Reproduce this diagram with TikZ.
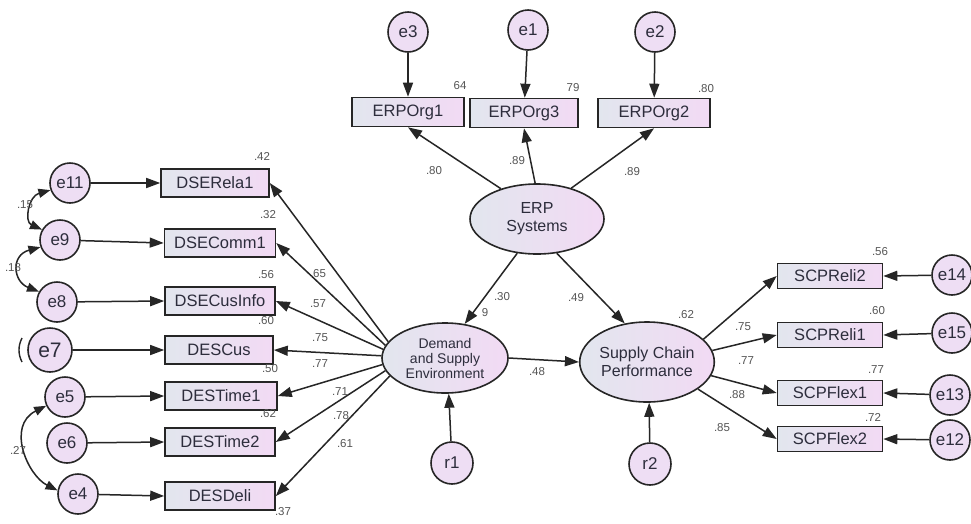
\documentclass[tikz,border=0pt]{standalone}
\usepackage{fontspec}
\setmainfont{Liberation Sans}
\usetikzlibrary{arrows.meta,shapes.geometric}
\definecolor{fillL}{RGB}{226,230,238}
\definecolor{fillR}{RGB}{242,218,244}
\definecolor{lav}{RGB}{238,222,244}
\definecolor{txt}{RGB}{45,45,60}
\definecolor{num}{RGB}{85,85,85}
\tikzset{
  obs/.style={draw=black!85, line width=1.6pt, left color=fillL, right color=fillR,
    minimum width=108pt, minimum height=28pt, inner sep=0pt,
    font=\fontsize{16.5}{18}\selectfont, text=txt},
  errc/.style={circle, draw=black!85, line width=1.6pt, fill=lav, minimum size=40pt,
    inner sep=0pt, font=\fontsize{17}{18}\selectfont, text=txt},
  lat/.style={ellipse, draw=black!85, line width=1.6pt, left color=fillL, right color=fillR,
    inner sep=0pt, text=txt, align=center},
  arr/.style={-{Triangle[length=14pt,width=10pt]}, line width=1.5pt, black!85},
  darr/.style={{Triangle[length=12pt,width=9pt]}-{Triangle[length=12pt,width=9pt]}, line width=1.5pt, black!85},
  lbl/.style={font=\fontsize{11.5}{12}\selectfont, text=num, inner sep=0pt}
}
\begin{document}
\begin{tikzpicture}[x=1pt,y=-1pt]
\useasboundingbox[fill=white] (0,0) rectangle (971,523);
% latent variables
\node[lat, minimum width=134pt, minimum height=70pt, font=\fontsize{16}{18}\selectfont] (ERP) at (537,219) {ERP\\Systems};
\node[lat, minimum width=126pt, minimum height=70pt, font=\fontsize{14}{15}\selectfont] (Dem) at (445,358) {Demand\\and Supply\\Environment};
\node[lat, minimum width=130pt, minimum height=80pt, font=\fontsize{16}{18}\selectfont] (SCP) at (647,362) {Supply Chain\\Performance};
% ERP indicators
\node[obs, minimum width=112pt, minimum height=29pt] (O1) at (408,112) {ERPOrg1};
\node[obs, minimum width=108pt, minimum height=29pt] (O3) at (524,113) {ERPOrg3};
\node[obs, minimum width=112pt, minimum height=29pt] (O2) at (654,113) {ERPOrg2};
\node[errc] (e3) at (408,32) {e3};
\node[errc] (e1) at (528,30) {e1};
\node[errc] (e2) at (655,32) {e2};
% left indicators
\node[obs] (B1) at (215,183) {DSERela1};
\node[obs, minimum width=111pt] (B2) at (220,243) {DSEComm1};
\node[obs, minimum width=110pt] (B3) at (220,301) {DSECusInfo};
\node[obs, minimum width=108pt] (B4) at (219,350) {DESCus};
\node[obs, minimum width=112pt] (B5) at (221,396) {DESTime1};
\node[obs, minimum width=110pt] (B6) at (220,442) {DESTime2};
\node[obs, minimum width=110pt] (B7) at (220,496) {DESDeli};
\node[errc] (e11) at (70,183) {e11};
\node[errc] (e9) at (60,240) {e9};
\node[errc] (e8) at (57,302) {e8};
\node[errc, minimum size=44pt, font=\fontsize{21}{22}\selectfont] (e7) at (50,350) {e7};
\node[errc] (e5) at (65,397) {e5};
\node[errc] (e6) at (67,443) {e6};
\node[errc] (e4) at (78,494) {e4};
% right indicators
\node[obs, minimum width=105pt, minimum height=25pt] (S1) at (830,276) {SCPReli2};
\node[obs, minimum width=105pt, minimum height=25pt] (S2) at (830,335) {SCPReli1};
\node[obs, minimum width=105pt, minimum height=25pt] (S3) at (830,393) {SCPFlex1};
\node[obs, minimum width=105pt, minimum height=25pt] (S4) at (830,439) {SCPFlex2};
\node[errc] (e14) at (952,275) {e14};
\node[errc] (e15) at (952,333) {e15};
\node[errc] (e13) at (950,395) {e13};
\node[errc] (e12) at (950,440) {e12};
% residuals
\node[errc, minimum size=42pt] (r1) at (452,463) {r1};
\node[errc, minimum size=42pt] (r2) at (650,464) {r2};
% label partly under arrow
\node[lbl] (l39) at (485,313) {9};
% ERP arrows
\draw[arr] (e3) -- (O1);
\draw[arr] (e1) -- (O3);
\draw[arr] (e2) -- (O2);
\draw[arr] (ERP.140) -- (O1.south);
\draw[arr] (ERP.93) -- (O3.south);
\draw[arr] (ERP.42) -- (O2.south);
\draw[arr] (ERP.240) -- (Dem.60);
\draw[arr] (ERP.300) -- (SCP.120);
\draw[arr] (Dem.east) -- (SCP.west);
\draw[arr] (r1) -- (Dem.-84);
\draw[arr] (r2) -- (SCP.-87);
% left
\foreach \e/\b in {e11/B1,e9/B2,e8/B3,e7/B4,e5/B5,e6/B6,e4/B7}
  \draw[arr] (\e) -- (\b.west);
\draw[arr] (Dem.164) -- (B1.east);
\draw[arr] (Dem.168) -- (B2.east);
\draw[arr] (Dem.172) -- (B3.east);
\draw[arr] (Dem.178) -- (B4.east);
\draw[arr] (Dem.186) -- (B5.east);
\draw[arr] (Dem.192) -- (B6.east);
\draw[arr] (Dem.198) -- (B7.east);
\draw[darr] (e11.200) .. controls +(-22,6) and +(-18,-8) .. (e9.150);
\draw[darr] (e9.200) .. controls +(-30,8) and +(-26,-10) .. (e8.150);
\draw[darr] (e5.205) .. controls +(-40,20) and +(-30,-15) .. (e4.170);
\coordinate (ca) at (22,338);
\coordinate (cb) at (22,362);
\draw[line width=1.4pt, black!85] (ca) .. controls +(-4,8) and +(-4,-8) .. (cb);
% right
\draw[arr] (SCP.22) -- (S1.west);
\draw[arr] (SCP.10) -- (S2.west);
\draw[arr] (SCP.-12) -- (S3.west);
\draw[arr] (SCP.-28) -- (S4.west);
\draw[arr] (e14) -- (S1.east);
\draw[arr] (e15) -- (S2.east);
\draw[arr] (e13) -- (S3.east);
\draw[arr] (e12) -- (S4.east);
% numbers
\node[lbl] at (460,86) {64};
\node[lbl] at (573,88) {79};
\node[lbl] at (706,89) {.80};
\node[lbl] at (434,171) {.80};
\node[lbl] at (517,161) {.89};
\node[lbl] at (632,172) {.89};
\node[lbl] at (502,297) {.30};
\node[lbl] at (576,298) {.49};
\node[lbl] at (537,372) {.48};
\node[lbl] at (686,315) {.62};
\node[lbl] at (262,156) {.42};
\node[lbl] at (268,215) {.32};
\node[lbl] at (266,275) {.56};
\node[lbl] at (266,321) {.60};
\node[lbl] at (270,369) {.50};
\node[lbl] at (268,414) {.62};
\node[lbl] at (283,512) {.37};
\node[lbl] at (318,274) {.65};
\node[lbl] at (318,304) {.57};
\node[lbl] at (320,338) {.75};
\node[lbl] at (320,364) {.77};
\node[lbl] at (340,392) {.71};
\node[lbl] at (341,416) {.78};
\node[lbl] at (345,444) {.61};
\node[lbl] at (25,205) {.15};
\node[lbl] at (13,268) {.18};
\node[lbl] at (18,450) {.27};
\node[lbl] at (880,252) {.56};
\node[lbl] at (877,311) {.60};
\node[lbl] at (876,370) {.77};
\node[lbl] at (873,417) {.72};
\node[lbl] at (743,327) {.75};
\node[lbl] at (746,361) {.77};
\node[lbl] at (737,395) {.88};
\node[lbl] at (722,428) {.85};
\end{tikzpicture}
\end{document}
